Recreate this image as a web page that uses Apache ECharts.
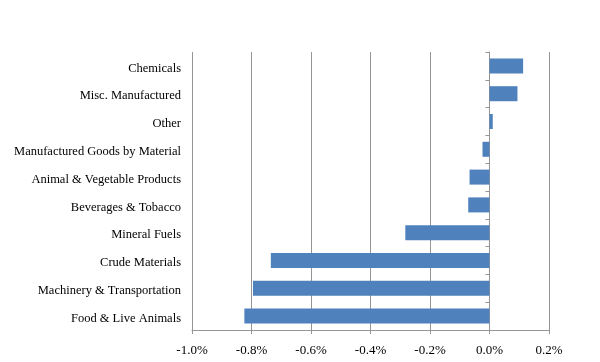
<!DOCTYPE html>
<html><head><meta charset="utf-8">
<script src="https://cdn.jsdelivr.net/npm/echarts@6/dist/echarts.min.js"></script>
<style>html,body{margin:0;padding:0;background:#fff}#c{width:600px;height:362px}</style>
</head><body><div id="c"></div>
<script>
const categories = ["Food & Live Animals","Machinery & Transportation","Crude Materials","Mineral Fuels","Beverages & Tobacco","Animal & Vegetable Products","Manufactured Goods by Material","Other","Misc. Manufactured","Chemicals"];
const values = [-0.824,-0.795,-0.735,-0.283,-0.0715,-0.067,-0.0235,0.011,0.094,0.113];
const xTicks = {min:-1.0, max:0.2, interval:0.2};

const chart = echarts.init(document.getElementById('c'));
const font = '"Liberation Serif", "Times New Roman", serif';
const grey = '#959595';
chart.setOption({
  animation:false,
  grid:{left:192,right:51,top:52,bottom:32,containLabel:false,outerBoundsMode:'none'},
  xAxis:{type:'value',min:xTicks.min,max:xTicks.max,interval:xTicks.interval,
    axisLine:{show:true,onZero:false,lineStyle:{color:grey,width:1}},
    axisTick:{show:true,length:4,lineStyle:{color:grey}},
    splitLine:{show:true,lineStyle:{color:grey,width:1}},
    axisLabel:{fontFamily:font,fontSize:13,color:'#000',margin:14,
      formatter:v=>(Math.round(v*10)/10).toFixed(1)+'%'}},
  yAxis:[
    {type:'category',data:categories,position:'left',
     axisLine:{show:false,onZero:false},axisTick:{show:false},
     axisLabel:{fontFamily:font,fontSize:12.5,color:'#000',margin:11,
       formatter:v=>'{a|'+v+'}',
       rich:{a:{fontFamily:font,fontSize:12.5,color:'#000',padding:[5,0,0,0]}}}},
    {type:'category',data:categories,position:'left',
     axisLine:{show:true,onZero:true,lineStyle:{color:grey,width:1}},
     axisTick:{show:true,length:4,lineStyle:{color:grey}},
     axisLabel:{show:false}}
  ],
  series:[{type:'bar',data:values,barCategoryGap:'46%',
    itemStyle:{color:'#4F81BD'}}]
});
</script></body></html>
